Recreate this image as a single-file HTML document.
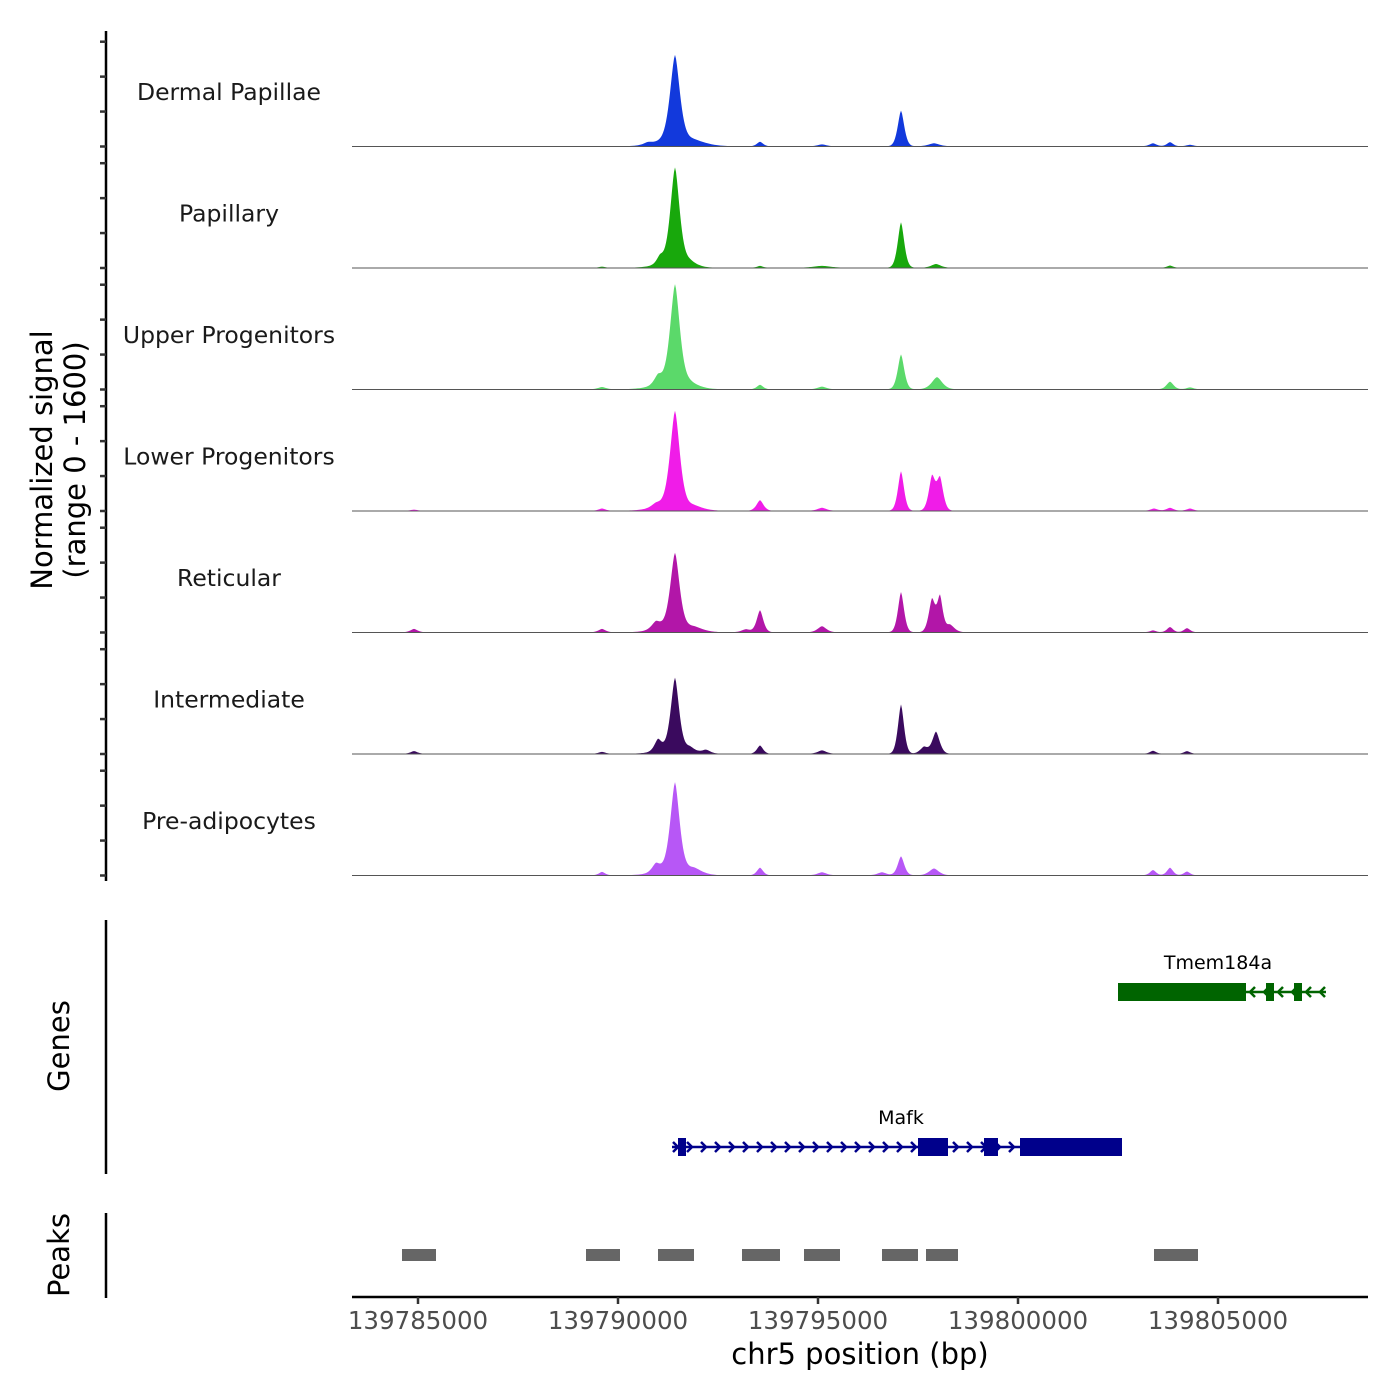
<!DOCTYPE html>
<html><head><meta charset="utf-8"><style>
body{margin:0;background:#fff}
svg{display:block;font-family:"DejaVu Sans","Liberation Sans",sans-serif}
</style></head><body>
<svg id="chart" width="1400" height="1400" viewBox="0 0 1400 1400">
<g id="tracks"></g>
<g id="axes"></g>
<g id="genes"></g>
<g id="peaks"></g>
<text x="58" y="460" font-size="29" text-anchor="middle" transform="rotate(-90 58 460)"><tspan x="58" dy="-6">Normalized signal</tspan><tspan x="58" dy="33">(range 0 - 1600)</tspan></text>
<text x="69" y="1046" font-size="29" text-anchor="middle" transform="rotate(-90 69 1046)">Genes</text>
<text x="69" y="1255" font-size="29" text-anchor="middle" transform="rotate(-90 69 1255)">Peaks</text>
<text x="860" y="1364" font-size="29" text-anchor="middle">chr5 position (bp)</text>
</svg>
<script>
const trackNames=["Dermal Papillae","Papillary","Upper Progenitors","Lower Progenitors","Reticular","Intermediate","Pre-adipocytes"];
const trackColors=["#1239dc","#18a80c","#5bd96a","#f01ce8","#b216a8","#3a0a5e","#b757f6"];
// peaks per track: [position bp, height (signal), sigma bp]
const trackPeaks=[
 [[139791425,1080,110],[139791350,110,320],[139791900,60,280],[139797075,470,75],[139797900,40,120],[139793550,60,70],[139803375,40,80],[139803800,55,70],[139790750,30,100],[139795100,25,100],[139804300,20,80]],
 [[139791425,1230,105],[139791350,90,300],[139791050,100,80],[139797075,600,75],[139797950,50,110],[139791800,60,150],[139793550,25,70],[139795100,25,200],[139803800,30,70],[139789600,15,70]],
 [[139791425,1270,110],[139791300,110,320],[139791000,120,90],[139791800,60,200],[139797075,460,75],[139797975,160,120],[139803800,100,80],[139793550,60,70],[139795100,35,100],[139789600,30,90],[139804300,25,80]],
 [[139791425,1220,110],[139791300,100,320],[139790950,50,100],[139791900,50,200],[139797075,520,70],[139797850,440,75],[139798050,420,75],[139793550,140,80],[139795100,40,100],[139803800,40,80],[139803400,30,80],[139804300,30,80],[139789600,30,80],[139784900,15,80]],
 [[139791425,960,105],[139791300,90,300],[139790950,100,100],[139791900,60,200],[139797075,530,70],[139797850,430,75],[139798050,450,65],[139798300,100,100],[139793550,290,75],[139793200,40,100],[139795100,80,100],[139784900,45,80],[139789600,45,80],[139803800,70,70],[139804225,55,70],[139803375,25,70]],
 [[139791425,930,95],[139791300,80,280],[139791000,150,80],[139791800,70,120],[139792200,50,100],[139797075,650,70],[139797950,290,85],[139797650,90,90],[139793550,110,70],[139795100,45,100],[139784900,35,80],[139789600,25,80],[139803375,40,70],[139804225,35,70]],
 [[139791425,1130,105],[139791300,100,300],[139790950,110,90],[139791900,80,180],[139797075,250,75],[139797900,90,110],[139796600,40,100],[139793550,100,70],[139795100,40,100],[139789600,45,70],[139803375,70,70],[139803800,100,70],[139804225,50,70]]
];
const xTicks=[139785000,139790000,139795000,139800000,139805000];
const tickLabels=["139785000","139790000","139795000","139800000","139805000"];
const genes=[
 {name:"Tmem184a",strand:-1,row:0,start:139802500,end:139807700,exons:[[139802500,139805700],[139806200,139806400],[139806900,139807100]],labelPos:139805000},
 {name:"Mafk",strand:1,row:1,start:139791350,end:139802600,exons:[[139791500,139791700],[139797500,139798250],[139799150,139799500],[139800050,139802600]],labelPos:139797075}
];
const peakRegions=[[139784600,139785450],[139789200,139790050],[139791000,139791900],[139793100,139794050],[139794650,139795550],[139796600,139797500],[139797700,139798500],[139803400,139804500]];

const NS="http://www.w3.org/2000/svg";
function mk(tag,attrs,parent){const e=document.createElementNS(NS,tag);for(const k in attrs)e.setAttribute(k,attrs[k]);parent.appendChild(e);return e;}
const X0=352,X1=1368;
const xScale=bp=>418+(bp-139785000)*0.04;
const bpAt=px=>139785000+(px-418)/0.04;
const trackTop=25,trackH=121.5;
const yScale=(t,v)=>trackTop+(t+1)*trackH-v*trackH/1600;

const gT=document.getElementById('tracks');
trackPeaks.forEach((pk,t)=>{
  let d="M"+X0+","+yScale(t,0);
  for(let px=X0;px<=X1;px+=1){
    const bp=bpAt(px);let v=3;
    pk.forEach(p=>{const z=Math.abs(bp-p[0])/p[2];v+=p[1]*Math.exp(-0.5*Math.pow(z,1.6));});
    d+=" L"+px+","+yScale(t,Math.min(v,1600)).toFixed(2);
  }
  d+=" L"+X1+","+yScale(t,0)+" Z";
  const a=mk('path',{d:d,fill:trackColors[t]},gT);
  
  
  const b=mk('line',{x1:X0,x2:X1,y1:yScale(t,0),y2:yScale(t,0),stroke:'#555','stroke-width':1},gT);
  
  
  const l=mk('text',{x:229,y:trackTop+t*trackH+75,'font-size':23.5,'text-anchor':'middle',fill:'#1a1a1a'},gT);
  l.textContent=trackNames[t];
  
  
});

const gA=document.getElementById('axes');
mk('line',{x1:106,x2:106,y1:31,y2:881,stroke:'#000','stroke-width':2.5},gA);
for(let t=0;t<7;t++){for(let k=0;k<4;k++){const y=yScale(t,k*460);
  mk('line',{x1:100,x2:106,y1:y,y2:y,stroke:'#333','stroke-width':2.5},gA);}}
mk('line',{x1:106,x2:106,y1:920,y2:1174,stroke:'#000','stroke-width':2.5},gA);
mk('line',{x1:106,x2:106,y1:1213,y2:1298,stroke:'#000','stroke-width':2.5},gA);
mk('line',{x1:352,x2:1368,y1:1297,y2:1297,stroke:'#000','stroke-width':2.5},gA);
xTicks.forEach((v,i)=>{const x=xScale(v);
  mk('line',{x1:x,x2:x,y1:1297,y2:1304,stroke:'#333','stroke-width':2.5},gA);
  const tx=mk('text',{x:x,y:1329,'font-size':24.5,'text-anchor':'middle',fill:'#4d4d4d'},gA);
  tx.textContent=tickLabels[i];
  
  
});

const gG=document.getElementById('genes');
genes.forEach(g=>{
  const y=g.row===0?992:1147;const col=g.row===0?'#006400':'#00008b';
  const x1=xScale(g.start),x2=xScale(g.end);
  mk('line',{x1:x1,x2:x2,y1:y,y2:y,stroke:col,'stroke-width':2.5},gG);
  for(let x=x1+6;x<x2;x+=14){
    const s=g.strand*5;
    mk('polyline',{points:(x-s)+","+(y-5)+" "+x+","+y+" "+(x-s)+","+(y+5),fill:'none',stroke:col,'stroke-width':2.5},gG);
  }
  g.exons.forEach(e=>{const r=mk('rect',{x:xScale(e[0]),y:y-9,width:xScale(e[1])-xScale(e[0]),height:18,fill:col},gG);
    
    });
  const t=mk('text',{x:xScale(g.labelPos),y:y-23,'font-size':19,'text-anchor':'middle',fill:'#000'},gG);
  t.textContent=g.name;
  
  
});

const gP=document.getElementById('peaks');
peakRegions.forEach(p=>{const r=mk('rect',{x:xScale(p[0]),y:1249,width:xScale(p[1])-xScale(p[0]),height:12,fill:'#666'},gP);
  
  });
</script>
</body></html>
